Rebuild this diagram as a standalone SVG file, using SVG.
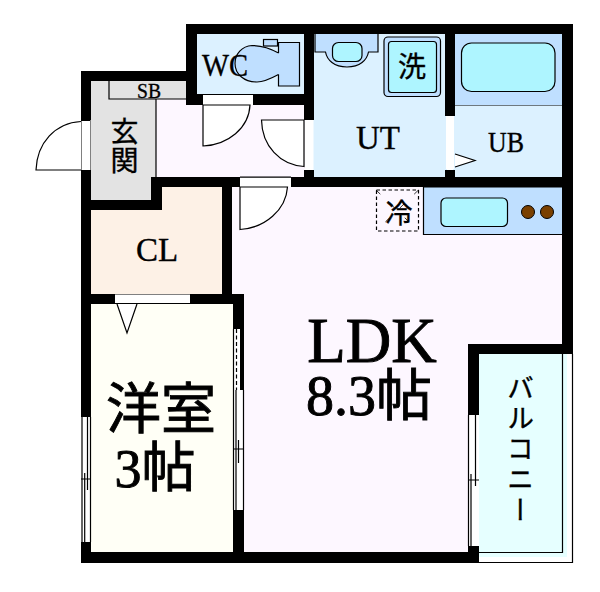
<svg xmlns="http://www.w3.org/2000/svg" width="600" height="592" viewBox="0 0 600 592">
<style>
.w{fill:#000}
.g{fill:#fff}
.l{fill:none;stroke:#000;stroke-width:1.2}
.d{fill:#fff;stroke:#000;stroke-width:1.2}
.b{fill:#bfdfff;stroke:#000;stroke-width:1.2}
.c{fill:#aef5ff;stroke:#000;stroke-width:1.2}
text{font-family:"Liberation Serif","Noto Sans CJK JP",serif;fill:#000;text-anchor:middle;stroke:#000;stroke-width:0.35}
.h{stroke-width:0.9}
.v{writing-mode:vertical-rl}
</style>
<rect width="600" height="592" fill="#fff"/>
<g id="room-fills">
<rect x="156" y="99" width="150" height="80" fill="#fdf7ff"/>
<rect x="232" y="187" width="332" height="167" fill="#fdf7ff"/>
<rect x="244" y="300" width="226" height="254" fill="#fdf7ff"/>
<rect x="91" y="205" width="133" height="91" fill="#fdf1e6"/>
<rect x="160" y="185" width="64" height="25" fill="#fdf1e6"/>
<rect x="91" y="302" width="144" height="252" fill="#fffff6"/>
<path d="M91 79H186V99H156V179H151V202H91Z" fill="#e3e3e3"/>
<rect x="195" y="32" width="111" height="64" fill="#dcf1ff"/>
<rect x="312" y="32" width="135" height="147" fill="#dcf1ff"/>
<rect x="453" y="32" width="111" height="147" fill="#dcf1ff"/>
<rect x="477" y="352" width="90" height="205" fill="#e6ffff"/>
</g>
<g id="walls">
<rect class="w" x="186" y="24" width="387" height="10"/>
<rect class="w" x="186" y="24" width="11" height="81"/>
<rect class="w" x="186" y="94" width="118" height="11"/>
<rect class="w" x="304" y="24" width="10" height="96"/>
<rect class="w" x="304" y="170" width="10" height="10"/>
<rect class="w" x="445" y="24" width="10" height="92"/>
<rect class="w" x="445" y="170" width="10" height="10"/>
<rect class="w" x="562" y="24" width="11" height="330"/>
<rect class="w" x="81" y="71" width="116" height="10"/>
<rect class="w" x="81" y="71" width="10" height="346"/>
<rect class="w" x="81" y="542" width="10" height="21"/>
<rect class="w" x="81" y="552" width="398" height="11"/>
<rect class="w" x="151" y="177" width="422" height="10"/>
<rect class="w" x="151" y="177" width="11" height="33"/>
<rect class="w" x="91" y="200" width="71" height="10"/>
<rect class="w" x="222" y="187" width="10" height="117"/>
<rect class="w" x="81" y="294" width="163" height="10"/>
<rect class="w" x="233" y="294" width="11" height="35"/>
<rect class="w" x="240" y="329" width="4" height="61"/>
<rect class="w" x="233" y="510" width="11" height="43"/>
<rect class="w" x="468" y="344" width="11" height="71"/>
<rect class="w" x="468" y="546" width="11" height="17"/>
<rect class="w" x="468" y="344" width="105" height="10"/>
</g>
<g id="openings">
<rect class="g" x="203" y="95" width="50" height="10"/>
<rect class="g" x="305" y="120" width="8.500" height="50"/>
<rect class="g" x="446" y="116" width="8" height="53"/>
<rect class="g" x="240" y="177.500" width="51" height="9.500"/>
<rect class="g" x="81.500" y="120" width="9" height="50"/>
<rect class="g" x="115" y="294.500" width="75" height="9"/>
<rect class="g" x="81.500" y="417" width="9" height="125"/>
<rect class="g" x="233.500" y="329" width="6.500" height="181"/>
<rect class="g" x="233.500" y="390" width="10.500" height="120"/>
<rect class="g" x="468.500" y="415" width="10.500" height="131"/>
</g>
<g id="connectors">
<path class="l" d="M240 177H291M115 303.500H190M455 105H562"/>
<path class="l" d="M156 99V177M109 81V99H186"/>
<path class="l" d="M82 417V542M90.500 417V542M87.500 417V490M84.700 473V542M81 479H91"/>
<path class="l" d="M233.500 329V510M243.500 390V510M236 390V510M238.500 440V463M233 449H244"/>
<path class="l" stroke-dasharray="4 2.500" d="M236.500 329V390"/>
<path class="l" d="M468.500 415V546M471 474V546M475.500 415V486M468 480H479"/>
<path class="l" d="M479 552.500H562.500V354M479 562.500H572.500V354"/>
<path class="l" d="M81 120.500H90M81 170.500H90"/>
</g>
<g id="door-entry"><path class="d" d="M81 170H36C37 143 55 123 81 121.500"/></g>
<g id="door-wc"><path class="d" d="M203 105V146C228 145 249 128 250 105Z"/></g>
<g id="door-ut"><path class="d" d="M304 120H261.500C262 146 280 165 304 166.500Z"/></g>
<g id="door-ldk"><path class="d" d="M240 187V229.500C265 228 286 210 287.500 187Z"/></g>
<g id="door-ub"><path class="d" d="M455 154L475 160.500L455 167"/></g>
<g id="door-cl"><path class="d" d="M117 304L127 333L137 304"/></g>
<g id="toilet">
<path class="b" d="M278.500 53C268 47 258 45.500 252 45.500C242 46 235 54 235 63.500C235 74 244 82 257 82C264 82 272 78 278.500 74.500Z"/>
<path class="b" d="M278.500 53V42.500H299.500V86H278.500V74.500"/>
<rect class="b" x="263.500" y="39.500" width="14" height="6.500"/>
<path d="M277.500 53.500V74" stroke="#bfdfff" stroke-width="3"/>
</g>
<g id="basin">
<path class="b" d="M315 34V52H325.500C327 60 334 67 347 67C360 67 367 60 368.500 52H378V34"/>
<rect class="c" x="332.500" y="42.500" width="29.500" height="19" rx="6"/>
</g>
<g id="washer">
<rect class="b" x="384" y="37" width="56.500" height="59.500" rx="4"/>
<rect class="c" x="388.500" y="41.500" width="48" height="51" rx="3"/>
<text x="412" y="77" font-size="28">洗</text>
</g>
<g id="bathtub">
<rect x="455" y="34" width="107" height="71" fill="#bfdfff"/>
<rect class="c" x="461.500" y="43" width="93.500" height="48.500" rx="10"/>
</g>
<g id="fridge">
<path d="M376 190L418.500 231M418.500 190L376 231" stroke="#000" stroke-width="0.800" stroke-dasharray="6 14" fill="none"/>
<rect x="376.500" y="190" width="42" height="41" fill="none" stroke="#000" stroke-width="1.200" stroke-dasharray="3.500 2.500"/>
<text x="399" y="223" font-size="27">冷</text>
</g>
<g id="kitchen">
<path class="b" d="M562 187H423.500V234.500H562" />
<rect class="c" x="441" y="198" width="66.500" height="28.500" rx="5"/>
<circle cx="528" cy="212" r="6.500" fill="#7a4000" stroke="#000"/>
<circle cx="547" cy="212" r="6.500" fill="#7a4000" stroke="#000"/>
</g>
<g id="label-wc"><text x="225" y="76" font-size="32" textLength="46" lengthAdjust="spacingAndGlyphs">WC</text></g>
<g id="label-sb"><text x="149" y="98" font-size="20" textLength="24" lengthAdjust="spacingAndGlyphs">SB</text></g>
<g id="label-genkan"><text class="v" x="122" y="117" font-size="28" letter-spacing="1" style="text-anchor:start">玄関</text></g>
<g id="label-ut"><text x="378" y="149" font-size="33">UT</text></g>
<g id="label-ub"><text x="506" y="152" font-size="30" textLength="36" lengthAdjust="spacingAndGlyphs">UB</text></g>
<g id="label-cl"><text x="157" y="261" font-size="33">CL</text></g>
<g id="label-ldk"><text class="h" x="372" y="362" font-size="63">LDK</text></g>
<g id="label-ldk-size"><text class="h" x="369" y="415" font-size="56">8.3帖</text></g>
<g id="label-yoshitsu"><text class="h" x="161" y="428" font-size="55">洋室</text></g>
<g id="label-yoshitsu-size"><text class="h" x="155" y="487" font-size="54">3帖</text></g>
<g id="label-balcony"><text class="v" x="518" y="374" font-size="27" letter-spacing="3.500" style="text-anchor:start">バルコニー</text></g>
</svg>
